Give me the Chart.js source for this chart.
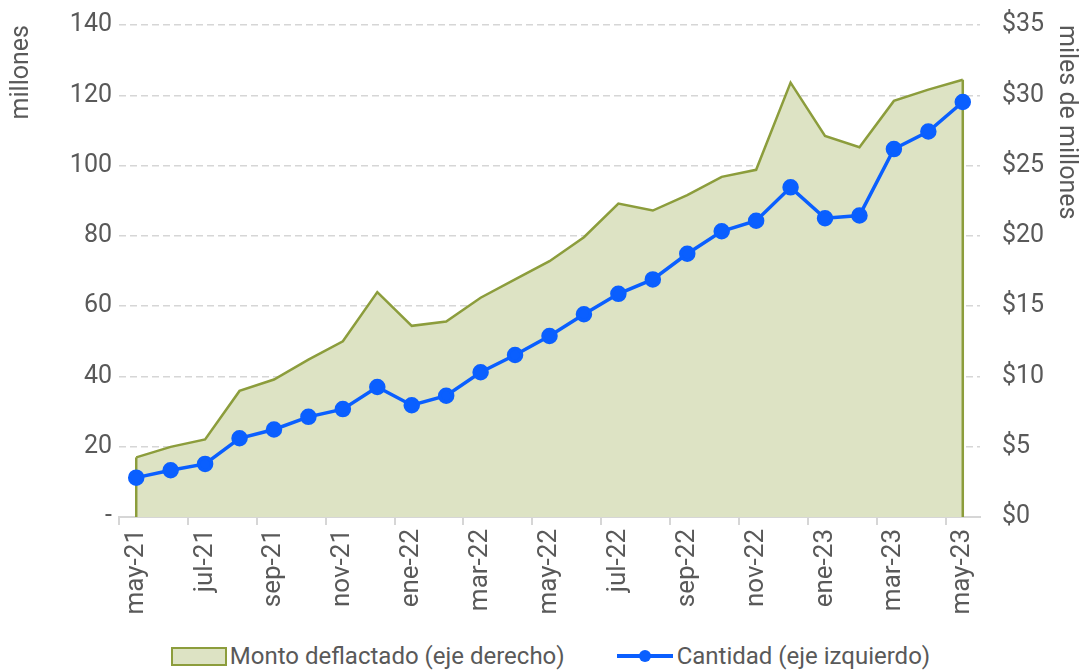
<!DOCTYPE html>
<html lang="es">
<head>
<meta charset="utf-8">
<title>Cantidad y monto deflactado</title>
<script src="https://cdn.jsdelivr.net/npm/chart.js@4.4.1/dist/chart.umd.min.js"></script>
<style>
    body { margin: 0; background: #fff; font-family: Roboto, "Open Sans", sans-serif; overflow: hidden; }
    #wrap { position: relative; width: 1081px; height: 625px; overflow: hidden; }
    #chart { position: absolute; top: -12px; left: 0; }
    .legend { position: absolute; top: 641px; left: 10px; width: 1081px; height: 30px; display: flex; justify-content: center; align-items: center; color: #595959; font-size: 24px; }
    .legend .item { display: flex; align-items: center; margin: 0 26px; }
    .legend .box { width: 52px; height: 15px; background: #dde3c4; border: 2px solid #8c9d3c; margin-right: 3px; }
    .legend .line { position: relative; width: 56px; height: 4px; background: #0a5fff; margin-right: 4px; }
    .legend .line::after { content: ""; position: absolute; left: 22px; top: -4px; width: 12px; height: 12px; border-radius: 50%; background: #0a5fff; }
</style>
</head>
<body>
<div id="wrap"><canvas id="chart" width="1081" height="637"></canvas></div>
<div class="legend">
    <div class="item"><span class="box"></span>Monto deflactado (eje derecho)</div>
    <div class="item"><span class="line"></span>Cantidad (eje izquierdo)</div>
</div>
<script>
// datos
const meses = ['may-21', 'jun-21', 'jul-21', 'ago-21', 'sep-21', 'oct-21', 'nov-21', 'dic-21',
    'ene-22', 'feb-22', 'mar-22', 'abr-22', 'may-22', 'jun-22', 'jul-22', 'ago-22', 'sep-22',
    'oct-22', 'nov-22', 'dic-22', 'ene-23', 'feb-23', 'mar-23', 'abr-23', 'may-23'];

// Cantidad, millones (eje izquierdo)
const cantidad = [11.2, 13.3, 15.1, 22.4, 24.9, 28.5, 30.7, 37.0, 31.8, 34.5, 41.2, 46.1, 51.5,
    57.7, 63.5, 67.6, 74.9, 81.3, 84.3, 93.8, 85.0, 85.8, 104.7, 109.7, 118.1];

// Monto deflactado, miles de millones (eje derecho)
const monto = [4.24, 4.99, 5.52, 8.97, 9.78, 11.2, 12.5, 16.0, 13.6, 13.9, 15.6, 16.9, 18.2,
    19.9, 22.3, 21.8, 22.9, 24.2, 24.7, 30.9, 27.1, 26.3, 29.6, 30.4, 31.1];

const ticksIzq = [0, 20, 40, 60, 80, 100, 120, 140];
const ticksDer = [0, 5, 10, 15, 20, 25, 30, 35];

const gris = '#595959';
const grisLinea = '#d6d6d6';
const oliva = '#8c9d3c';

// bordes verticales del área (inicio y fin)
const bordesArea = {
    id: 'bordesArea',
    afterDatasetDraw(chart, args) {
        if (args.index !== 1) return;
        const pts = args.meta.data;
        const base = chart.scales.y1.getPixelForValue(0);
        const ctx = chart.ctx;
        ctx.save();
        ctx.strokeStyle = oliva;
        ctx.lineWidth = 2.5;
        [pts[0], pts[pts.length - 1]].forEach(p => {
            ctx.beginPath();
            ctx.moveTo(p.x, p.y);
            ctx.lineTo(p.x, base);
            ctx.stroke();
        });
        ctx.restore();
    }
};

new Chart(document.getElementById('chart'), {
    type: 'line',
    data: {
        labels: meses,
        datasets: [
            {
                label: 'Cantidad (eje izquierdo)',
                data: cantidad,
                yAxisID: 'y',
                borderColor: '#0a5fff',
                backgroundColor: '#0a5fff',
                borderWidth: 3.5,
                pointRadius: 6.5,
                pointHoverRadius: 6.5,
                tension: 0,
                fill: false
            },
            {
                label: 'Monto deflactado (eje derecho)',
                data: monto,
                yAxisID: 'y1',
                borderColor: oliva,
                backgroundColor: '#dde3c4',
                borderWidth: 2.5,
                pointRadius: 0,
                tension: 0,
                fill: 'origin'
            }
        ]
    },
    options: {
        responsive: false,
        animation: false,
        layout: { padding: { top: 3, left: 0, right: 0, bottom: 0 } },
        plugins: {
            legend: { display: false },
            tooltip: { enabled: false }
        },
        scales: {
            x: {
                offset: true,
                grid: {
                    offset: true,
                    drawOnChartArea: false,
                    tickLength: 8,
                    lineWidth: 2,
                    color: c => c.index % 2 === 0 ? grisLinea : 'transparent'
                },
                border: { color: grisLinea, width: 2 },
                ticks: {
                    autoSkip: false,
                    maxRotation: 90,
                    minRotation: 90,
                    padding: 4,
                    color: gris,
                    font: { family: 'Roboto', size: 26 },
                    callback: function(v, i) { return i % 2 === 0 ? meses[i] : ''; }
                },
                afterFit: s => { s.height = 108; }
            },
            y: {
                position: 'left',
                min: 0,
                max: 140,
                afterBuildTicks: s => { s.ticks = ticksIzq.map(v => ({ value: v })); },
                grid: {
                    drawTicks: false,
                    lineWidth: 1.5,
                    color: c => c.tick && c.tick.value === 0 ? 'transparent' : grisLinea
                },
                border: { display: false, dash: [7, 4] },
                ticks: {
                    padding: 7,
                    color: gris,
                    font: { family: 'Roboto', size: 25 },
                    callback: v => v === 0 ? '-' : v
                },
                title: {
                    display: true,
                    text: 'millones',
                    align: 'end',
                    color: gris,
                    font: { family: 'Roboto', size: 25 },
                    padding: { top: 7, bottom: 0 }
                },
                afterFit: s => { s.width = 119; }
            },
            y1: {
                position: 'right',
                min: 0,
                max: 35,
                afterBuildTicks: s => { s.ticks = ticksDer.map(v => ({ value: v })); },
                grid: { drawOnChartArea: false, drawTicks: false },
                border: { display: false },
                ticks: {
                    padding: 22,
                    color: gris,
                    font: { family: 'Roboto', size: 25 },
                    callback: v => '$' + v
                },
                title: {
                    display: true,
                    text: 'miles de millones',
                    align: 'end',
                    color: gris,
                    font: { family: 'Roboto', size: 25 },
                    padding: { top: 0, bottom: 0 }
                },
                afterFit: s => { s.width = 101; }
            }
        }
    },
    plugins: [bordesArea]
});
</script>
</body>
</html>
